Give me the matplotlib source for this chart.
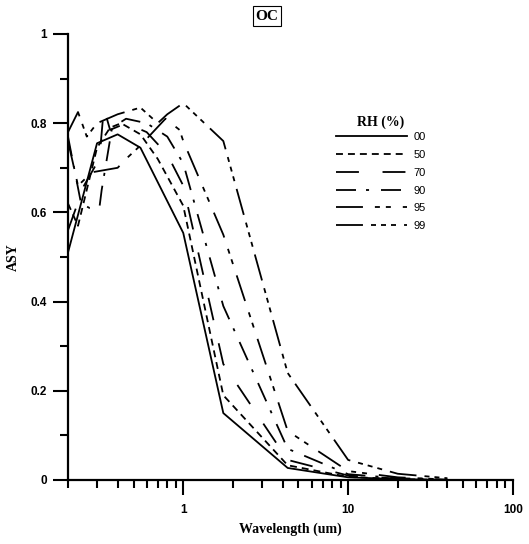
import numpy as np
import matplotlib
matplotlib.use("Agg")
import matplotlib.pyplot as plt
from matplotlib.ticker import LogLocator, NullFormatter, FixedLocator

plt.rcParams['lines.scale_dashes'] = False

# RH (%) series: wavelength (um) and asymmetry parameter
wl_00 = [0.2, 0.3, 0.4, 0.55, 1.0, 1.75, 4.3, 10, 20, 40]
asy_00 = [0.51, 0.755, 0.775, 0.745, 0.554, 0.15, 0.027, 0.006, 0.002, 0.0]

wl_50 = [0.2, 0.23, 0.3, 0.36, 0.42, 0.55, 0.7, 1.0, 1.75, 4.3, 10, 20, 40]
asy_50 = [0.62, 0.57, 0.745, 0.79, 0.80, 0.775, 0.72, 0.615, 0.19, 0.033, 0.007, 0.002, 0.0]

wl_70 = [0.2, 0.25, 0.31, 0.33, 0.36, 0.45, 0.6, 0.8, 1.0, 1.75, 4.3, 10, 20, 40]
asy_70 = [0.56, 0.66, 0.72, 0.834, 0.785, 0.80, 0.78, 0.73, 0.66, 0.26, 0.045, 0.01, 0.003, 0.0]

wl_90 = [0.2, 0.24, 0.27, 0.31, 0.32, 0.37, 0.45, 0.6, 0.8, 1.0, 1.75, 4.3, 10, 20, 40]
asy_90 = [0.77, 0.62, 0.61, 0.61, 0.65, 0.79, 0.81, 0.80, 0.77, 0.71, 0.39, 0.07, 0.013, 0.004, 0.001]

wl_95 = [0.2, 0.23, 0.28, 0.4, 0.45, 0.55, 0.78, 0.95, 1.0, 1.75, 4.3, 10, 20, 40]
asy_95 = [0.76, 0.66, 0.69, 0.70, 0.72, 0.75, 0.81, 0.785, 0.76, 0.55, 0.11, 0.02, 0.006, 0.001]

wl_99 = [0.2, 0.23, 0.26, 0.3, 0.4, 0.55, 0.7, 0.8, 1.0, 1.75, 4.3, 10, 20, 40]
asy_99 = [0.78, 0.825, 0.77, 0.80, 0.82, 0.835, 0.80, 0.82, 0.845, 0.76, 0.24, 0.045, 0.014, 0.004]

labels = ["00", "50", "70", "90", "95", "99"]
dashes = [None,
          (5, 3.6),
          (16.5, 17),
          (14.4, 7.2, 2.2, 8.6),
          (19.4, 8.6, 3.6, 4.3, 3.6, 8.6),
          (19.4, 5.8, 3.6, 3.6, 3.6, 3.6, 3.6, 5.8)]

serif = 'Liberation Serif'
sans = 'Liberation Sans'

fig = plt.figure(figsize=(5.29, 5.44), dpi=100)
ax = fig.add_axes([68/529, 1-480/544, (513-68)/529, (480-34)/544])

series = [(wl_00, asy_00), (wl_50, asy_50), (wl_70, asy_70),
          (wl_90, asy_90), (wl_95, asy_95), (wl_99, asy_99)]
for (wl, g), lab, d in zip(series, labels, dashes):
    line, = ax.plot(wl, g, color='black', lw=1.3, label=lab)
    if d is not None:
        line.set_dashes(d)

ax.set_xscale('log')
ax.set_xlim(0.2, 100)
ax.set_ylim(0, 1)

ax.spines['top'].set_visible(False)
ax.spines['right'].set_visible(False)
ax.spines['left'].set_linewidth(1.6)
ax.spines['bottom'].set_linewidth(1.6)

ax.xaxis.set_major_locator(FixedLocator([1, 10, 100]))
ax.xaxis.set_minor_locator(LogLocator(base=10, subs=np.arange(2, 10), numticks=20))
ax.xaxis.set_minor_formatter(NullFormatter())
ax.set_xticklabels(["1", "10", "100"])
ax.set_yticks([0, 0.2, 0.4, 0.6, 0.8, 1])
ax.set_yticklabels(["0", "0.2", "0.4", "0.6", "0.8", "1"])
ax.set_yticks([0.1, 0.3, 0.5, 0.7, 0.9], minor=True)

ax.tick_params(which='major', direction='out', length=11, width=1.5, pad=4)
ax.tick_params(axis='x', which='major', pad=6)
ax.tick_params(which='minor', direction='out', length=5.5, width=1.5)
for t in ax.get_xticklabels() + ax.get_yticklabels():
    t.set_fontfamily(sans)
    t.set_fontweight('bold')
    t.set_fontsize(8.5)

ax.set_xlabel("Wavelength (um)", fontfamily=serif, fontweight='bold', fontsize=10, labelpad=5)
ax.set_ylabel("ASY", fontfamily=serif, fontweight='bold', fontsize=10, labelpad=8)

fig.text(267/529, 1-16/544, "OC", ha='center', va='center', fontfamily=serif,
         fontweight='bold', fontsize=11,
         bbox=dict(boxstyle='square,pad=0.2', facecolor='white', edgecolor='black', lw=0.8))

leg = ax.legend(loc='upper left', bbox_to_anchor=(336/529, 1-116/544),
                bbox_transform=fig.transFigure, frameon=False, borderpad=0,
                borderaxespad=0, handlelength=6.4, handletextpad=0.6,
                labelspacing=0.7, prop={'family': sans, 'size': 8},
                title="RH (%)")
leg._legend_box.sep = 2
leg.get_title().set_fontfamily(serif)
leg.get_title().set_fontweight('bold')
leg.get_title().set_fontsize(10)

fig.savefig('out.png', dpi=100)
